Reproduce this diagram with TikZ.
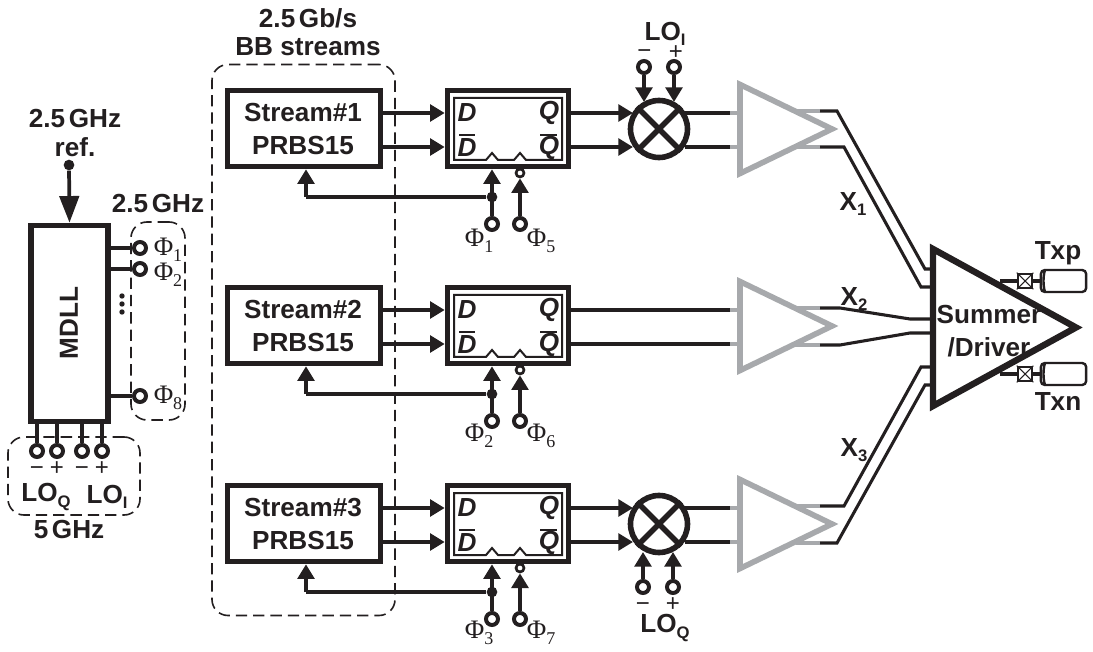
\documentclass[tikz,border=0pt]{standalone}
\usepackage{fontspec}
\setmainfont{Liberation Sans}
\newfontfamily\phifont{Liberation Serif}
\usetikzlibrary{arrows.meta}
\newcommand\pxu{0.75pt}
\newcommand\nsp{\hspace{.14em}}
\newcommand\subs[1]{\raisebox{-.2em}{\fontsize{12.5}{12.5}\selectfont #1}}
\newcommand\phil[1]{{\phifont\fontsize{20}{20}\selectfont\char"03A6\raisebox{-.22em}{\fontsize{13.5}{13.5}\selectfont #1}}}
\definecolor{ink}{HTML}{231F20}
\definecolor{ampgrey}{HTML}{A7A9AC}
\tikzset{
  x=0.75pt,y=-0.75pt,
  every node/.style={text=ink},
  label/.style={font=\bfseries\fontsize{19.6}{24.75}\selectfont,align=center,inner sep=0pt},
  tight/.style={font=\bfseries\fontsize{19.6}{21.5}\selectfont,align=center,inner sep=0pt},
  plain/.style={font=\fontsize{18}{18}\selectfont,inner sep=0pt},
  philabel/.style={inner sep=0pt},
  block/.style={draw=ink,line width=4.2pt,fill=white,rectangle,inner sep=0pt,minimum width=153*\pxu,minimum height=76*\pxu},
  ffbox/.style={block,minimum width=121*\pxu},
  mdllbox/.style={block,minimum width=77*\pxu,minimum height=196*\pxu},
  pin/.style={circle,draw=ink,line width=3pt,fill=white,inner sep=0pt,minimum size=9pt},
  bubble/.style={circle,draw=ink,line width=2pt,fill=white,inner sep=0pt,minimum size=6pt},
  mixer/.style={circle,draw=ink,line width=4.2pt,fill=white,inner sep=0pt,minimum size=57*\pxu},
  joint/.style={circle,fill=ink,inner sep=0pt,minimum size=8pt},
  group/.style={draw=ink,line width=1.2pt,rectangle,rounded corners=12pt,dash pattern=on 8.5pt off 4.5pt,inner sep=0pt},
  wire/.style={draw=ink,line width=2.8pt},
  arr/.style={wire,-{Triangle[length=11pt,width=12.5pt]}},
  thinwire/.style={draw=ink,line width=2.3pt,line join=miter},
  stub/.style={draw=ampgrey,line width=2.8pt},
  amp/.style={draw=ampgrey,line width=4.2pt,fill=white,line join=miter,miter limit=10},
  pad/.style={draw=ink,line width=2pt,fill=white,rectangle,inner sep=0pt,minimum size=10.5pt},
  cable/.style={draw=ink,line width=1.8pt,fill=white,rectangle,rounded corners=3pt,inner sep=0pt,minimum width=34pt,minimum height=16.5pt},
}
\begin{document}
\begin{tikzpicture}
\useasboundingbox[fill=white] (0,0) rectangle (1093,652);

% groups
\node[group,minimum width=183*\pxu,minimum height=551*\pxu] (gstreams) at (303.5,340) {};
\node[group,minimum width=54*\pxu,minimum height=198*\pxu] (gphi) at (158,321) {};
\node[group,minimum width=132*\pxu,minimum height=78*\pxu] (glo) at (74,476) {};

% MDLL
\node[tight] (reftxt) at (75,133) {2.5\nsp GHz\\ref.};
\node[mdllbox] (mdll) at (69.5,323.5) {};
\node[label,rotate=90] (mdlltxt) at (69,323) {MDLL};
\node[joint] (refin) at (69,165) {};
\draw[wire,-{Triangle[length=20pt,width=14.5pt]}] (refin) -- (mdll.north);
\node[label] (ghza) at (158,204) {2.5\nsp GHz};
\foreach \n/\y/\t/\ty in {a/248/1/250,b/269/2/275,c/396/8/398}{
  \node[pin] (o\n) at (140,\y) {};
  \draw[wire] (mdll.east |- o\n) -- (o\n);
  \node[philabel] (l\n) at (168,\ty) {\phil{\t}};
}
\node[circle,fill=ink,inner sep=0pt,minimum size=4pt] (d1) at (122,296) {};
\node[circle,fill=ink,inner sep=0pt,minimum size=4pt] (d2) at (122,304) {};
\node[circle,fill=ink,inner sep=0pt,minimum size=4pt] (d3) at (122,312) {};
\foreach \n/\x/\s/\sy in {a/37/−/471,b/57/+/469,c/82/−/471,d/102/+/469}{
  \node[pin] (p\n) at (\x,451) {};
  \draw[wire] (mdll.south -| p\n) -- (p\n);
  \node[plain] (s\n) at (\x,\sy) {\s};
}
\node[label] (loq) at (46,497) {LO\subs{Q}};
\node[label] (loi) at (107,497) {LO\subs{I}};
\node[label] (fiveg) at (69,530) {5\nsp GHz};
\node[tight] (gbs) at (308,32) {2.5\nsp Gb/s\\BB streams};

% three rows
\foreach \r/\o/\pa/\pb/\ly in {1/0/1/5/241,2/197/2/6/436,3/395/3/7/633}{
  \node[block] (st\r) at (304,{128.5+\o}) {};
  \node[label] (sttxt\r) at (303,{129+\o}) {Stream\#\r\\PRBS15};
  \node[ffbox] (ff\r) at (508,{128.5+\o}) {};
  \draw[thinwire,line width=1.5pt,fill=white] (454,{98+\o}) -- (562,{98+\o}) -- (562,{160+\o}) -- (526,{160+\o}) -- (520,{153+\o}) -- (514,{160+\o}) -- (498,{160+\o}) -- (492,{153+\o}) -- (486,{160+\o}) -- (454,{160+\o}) -- cycle;
  \node[label,font=\bfseries\itshape\fontsize{19.6}{20}\selectfont] (dd\r) at (467,{113+\o}) {D};
  \node[label,font=\bfseries\itshape\fontsize{19.6}{20}\selectfont] (db\r) at (467,{148+\o}) {D};
  \node[label,font=\bfseries\itshape\fontsize{19.6}{20}\selectfont] (qq\r) at (549,{113+\o}) {Q};
  \node[label,font=\bfseries\itshape\fontsize{19.6}{20}\selectfont] (qb\r) at (549,{148+\o}) {Q};
  \draw[wire,line width=2pt] (459,{135+\o}) -- (475,{135+\o});
  \draw[wire,line width=2pt] (540,{135+\o}) -- (557,{135+\o});
  % data
  \coordinate (a\r) at (0,{113+\o});
  \coordinate (b\r) at (0,{147+\o});
  \draw[arr] (st\r.east |- a\r) -- (ff\r.west |- a\r);
  \draw[arr] (st\r.east |- b\r) -- (ff\r.west |- b\r);
  % clocks
  \node[pin] (ca\r) at (492,{224+\o}) {};
  \node[pin] (cb\r) at (520,{224+\o}) {};
  \node[bubble] (bb\r) at (520,{173+\o}) {};
  \draw[arr] (ca\r) -- (ca\r |- ff\r.south);
  \draw[arr] (cb\r) -- (bb\r);
  \node[joint] (j\r) at (492,{197+\o}) {};
  \coordinate (up\r) at (306,{197+\o});
  \draw[wire,line join=miter] (j\r) -- (up\r);
  \draw[arr] (up\r) -- (up\r |- st\r.south);
  \node[philabel] (pa\r) at (479,\ly) {\phil{\pa}};
  \node[philabel] (pb\r) at (541,\ly) {\phil{\pb}};
  % amplifier
  \coordinate (at\r) at (740,{84.5+\o});
  \coordinate (ab\r) at (740,{173.5+\o});
  \coordinate (ap\r) at (832,{129+\o});
}
\foreach \r in {1,2,3}{
  \draw[amp] (at\r) -- (ap\r) -- (ab\r) -- cycle;
}

% mixers
\node[mixer] (m1) at (659,129) {};
\node[mixer] (m3) at (659,524) {};
\foreach \m in {m1,m3}{
  \draw[draw=ink,line width=4.2pt] (\m.45) -- (\m.225);
  \draw[draw=ink,line width=4.2pt] (\m.135) -- (\m.315);
}
% Q to mixer, mixer to amp
\foreach \r/\m/\ya/\yb in {1/m1/113/147,3/m3/508/542}{
  \coordinate (ti\r) at (633,\ya); \coordinate (tj\r) at (633,\yb);
  \draw[arr] (ff\r.east |- ti\r) -- (ti\r);
  \draw[arr] (ff\r.east |- tj\r) -- (tj\r);
  \coordinate (mo\r) at (685,\ya); \coordinate (mp\r) at (685,\yb);
  \coordinate (ko\r) at (730,\ya); \coordinate (kp\r) at (730,\yb);
  \draw[wire] (mo\r) -- (ko\r); \draw[wire] (mp\r) -- (kp\r);
  \draw[stub] (ko\r) -- (738,\ya); \draw[stub] (kp\r) -- (738,\yb);
}
% row 2 straight through
\coordinate (r2a) at (730,310); \coordinate (r2b) at (730,344);
\draw[thinwire] (ff2.east |- r2a) -- (r2a);
\draw[thinwire] (ff2.east |- r2b) -- (r2b);
\draw[stub,line width=2.3pt] (r2a) -- (738,310);
\draw[stub,line width=2.3pt] (r2b) -- (738,344);

% LO pins
\node[pin] (li1) at (644,67) {};
\node[pin] (li2) at (674,67) {};
\coordinate (lt1) at (644,102); \coordinate (lt2) at (674,102);
\draw[arr] (li1) -- (lt1);
\draw[arr] (li2) -- (lt2);
\node[plain] (lim) at (644.5,54) {−};
\node[plain] (lip) at (676,53) {+};
\node[label] (lit) at (665,34) {LO\subs{I}};
\node[pin] (lq1) at (643,587) {};
\node[pin] (lq2) at (673,587) {};
\coordinate (lu1) at (643,552); \coordinate (lu2) at (673,552);
\draw[arr] (lq1) -- (lu1);
\draw[arr] (lq2) -- (lu2);
\node[plain] (lqm) at (643,607) {−};
\node[plain] (lqp) at (673,605) {+};
\node[label] (lqt) at (665,628) {LO\subs{Q}};

% summer
\coordinate (sa) at (933,249); \coordinate (sb) at (933,406); \coordinate (sc) at (1076,327.5);

% amp outputs
\foreach \nm/\xs/\ys/\xk/\ya/\xb/\yb in {
 w1/795/111/837/111/925/269,
 w2/795/147/844/147/921/287,
 w3/796/506/844/506/921/367,
 w4/796/543/837/543/925/385}{
  \coordinate (\nm k) at (820,\ys);
  \draw[stub] (\xs,\ys) -- (\nm k);
  \draw[thinwire] (\nm k) -- (\xk,\ya) -- (\xb,\yb) -- (sa |- {0,\yb});
}
\foreach \nm/\ys/\yb/\ye in {w5/308/319/319,w6/345/333/333}{
  \coordinate (\nm k) at (820,\ys);
  \draw[stub] (793,\ys) -- (\nm k);
  \draw[thinwire] (\nm k) -- (840,\ys) -- (910,\yb) -- (sa |- {0,\ye});
}
\draw[draw=ink,line width=4.8pt,fill=white,line join=miter,miter limit=10] (sa) -- (sc) -- (sb) -- cycle;
\node[label] (sumtxt) at (989,331) {Summer\\/Driver};

% outputs
\foreach \n/\y/\t/\ty in {p/281/Txp/253,n/374/Txn/402}{
  \node[pad] (pd\n) at (1025,\y) {};
  \draw[draw=ink,line width=0.8pt] (pd\n.north west) -- (pd\n.south east);
  \draw[draw=ink,line width=0.8pt] (pd\n.north east) -- (pd\n.south west);
  \node[cable] (cb\n) at (1063.5,\y) {};
  \draw[draw=ink,line width=1.8pt] (1045,\y-11) .. controls (1043,\y-5) and (1043,\y+5) .. (1045,\y+11);
  \draw[thinwire] (1000,\y) -- (pd\n.west);
  \draw[thinwire] (pd\n.east) -- (cb\n.west);
  \node[label] (t\n) at (1058,\ty) {\t};
}
\node[label] (x1) at (853,204) {X\subs{1}};
\node[label] (x2) at (854,299) {X\subs{2}};
\node[label] (x3) at (854,450) {X\subs{3}};
\end{tikzpicture}
\end{document}
